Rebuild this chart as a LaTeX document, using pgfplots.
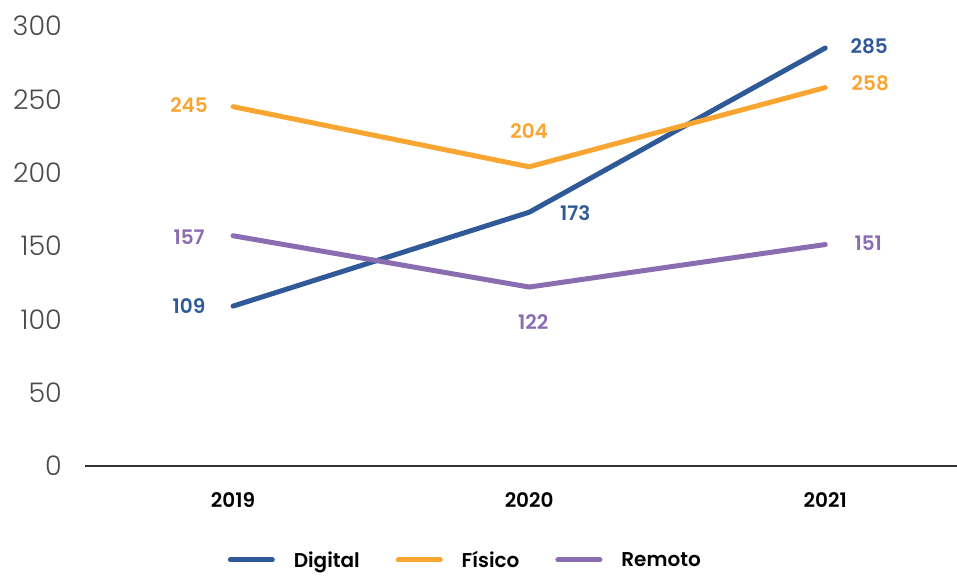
\documentclass[border=0pt]{standalone}
\usepackage{fontspec}
\setmainfont{Poppins}[BoldFont={* SemiBold}]
\newfontfamily\thinfont{Poppins}[UprightFont={* Light}]
\usepackage{pgfplots}
\pgfplotsset{compat=1.18}
\definecolor{cDig}{HTML}{2F5A97}
\definecolor{cFis}{HTML}{F9A531}
\definecolor{cRem}{HTML}{8A6DB1}
\definecolor{cTick}{HTML}{4A4A4A}
\pgfplotsset{
  lbl/.style={
    nodes near coords, point meta=explicit,
    visualization depends on={\thisrow{dx}\as\dx},
    visualization depends on={\thisrow{dy}\as\dy},
    every node near coord/.append style={anchor=center, inner sep=0pt,
      xshift=\dx pt, yshift=\dy pt, font=\fontsize{20}{22}\selectfont\bfseries, text=#1}
  }
}
\begin{document}
\begin{tikzpicture}[x=1pt,y=1pt]
\begin{axis}[
  at={(85pt,111pt)}, anchor=south west,
  width=872pt, height=440pt, scale only axis,
  xmin=-0.5, xmax=2.445, ymin=0, ymax=300,
  axis x line=bottom, axis y line=left,
  y axis line style={draw=none},
  x axis line style={-, draw=black!80, line width=1.5pt},
  xtick={0,1,2}, xticklabels={2019,2020,2021},
  ytick={0,50,...,300},
  tick style={draw=none},
  major tick length=0pt,
  xticklabel style={font=\fontsize{20}{22}\selectfont\bfseries, anchor=center, inner sep=0pt, yshift=-34pt},
  yticklabel style={font=\fontsize{27}{30}\selectfont\thinfont, text=cTick, anchor=east, inner sep=0pt, xshift=-23pt},
  /pgf/number format/assume math mode=true,
  clip=false,
  legend columns=3,
  legend image code/.code={\draw[#1] (0pt,0pt) -- (42pt,0pt);},
  legend style={at={(axis description cs:0.435,-0.2136)}, anchor=center, draw=none, fill=none,
    font=\fontsize{20}{22}\selectfont\bfseries, inner sep=0pt, nodes={inner sep=0pt},
    /tikz/every odd column/.append style={column sep=19pt},
    /tikz/every even column/.append style={column sep=36pt}},
]
\addplot[cDig, line width=5pt, line cap=round, line join=round, lbl=cDig] table[x=x, y=y, meta=y] {
x y dx dy
0 109 -44 0
1 173 46 -1
2 285 44 2
};
\addlegendentry{Digital}
\addplot[cFis, line width=5pt, line cap=round, line join=round, lbl=cFis] table[x=x, y=y, meta=y] {
x y dx dy
0 245 -44 2
1 204 0 36
2 258 45 4
};
\addlegendentry{Físico}
\addplot[cRem, line width=5pt, line cap=round, line join=round, lbl=cRem] table[x=x, y=y, meta=y] {
x y dx dy
0 157 -44 -1
1 122 4 -35
2 151 43 1
};
\addlegendentry{Remoto}
\end{axis}
\pgfresetboundingbox
\useasboundingbox (0,0) rectangle (957,577);
\end{tikzpicture}
\end{document}
